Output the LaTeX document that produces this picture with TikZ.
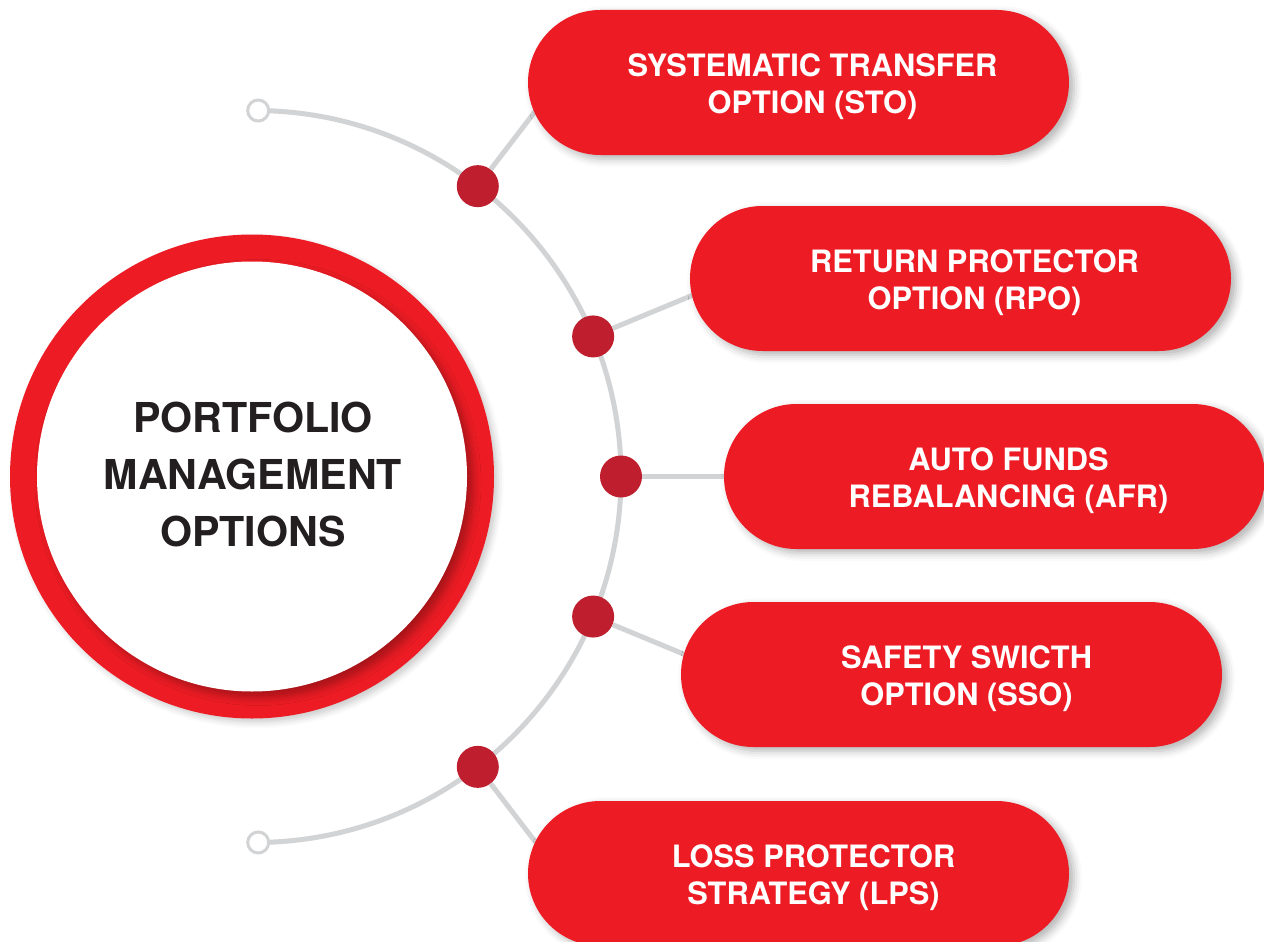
\documentclass[tikz,border=0pt]{standalone}
\usepackage{fontspec}
\setmainfont{TeX Gyre Heros}
\usetikzlibrary{shapes.misc,calc,shadows.blur}
\definecolor{pillred}{RGB}{237,28,36}
\definecolor{hubred}{RGB}{190,30,45}
\definecolor{linegray}{RGB}{209,211,212}
\definecolor{titleblack}{RGB}{35,31,32}
\begin{document}
\begin{tikzpicture}[x=1pt,y=1pt,
  pill/.style={rounded rectangle, fill=pillred, minimum width=541pt, minimum height=145pt, inner sep=0pt,
    blur shadow={shadow xshift=5pt, shadow yshift=-4pt, shadow blur radius=8pt, shadow opacity=30}},
  pilltext/.style={text=white, font=\fontsize{30.8}{37}\selectfont\bfseries, align=center, inner sep=0pt},
  hub/.style={circle, fill=hubred, minimum size=42pt, inner sep=0pt},
  link/.style={draw=linegray, line width=5pt},
  endpt/.style={circle, fill=white, draw=linegray, line width=3pt, minimum size=21pt, inner sep=0pt}]
\useasboundingbox (0,0) rectangle (1264,-942);
\coordinate (C) at (255,-476.5);
\coordinate (arcstart) at ($(C)+(89.5:366)$);
% the arc
\draw[link] (arcstart) arc[start angle=89.5, end angle=-89.5, radius=366];
% hubs on the arc
\node[hub] (h1) at ($(C)+(52.5:366)$) {};
\node[hub] (h2) at ($(C)+(22.5:366)$) {};
\node[hub] (h3) at ($(C)+(0:366)$) {};
\node[hub] (h4) at ($(C)+(-22.5:366)$) {};
\node[hub] (h5) at ($(C)+(-52.5:366)$) {};
\coordinate (e1) at ($(C)+(52.5:500)$);
\coordinate (e2) at ($(C)+(22.5:500)$);
\coordinate (e3) at ($(C)+(0:500)$);
\coordinate (e4) at ($(C)+(-22.5:500)$);
\coordinate (e5) at ($(C)+(-52.5:500)$);
\draw[link] (h1) -- (e1);
\draw[link] (h2) -- (e2);
\draw[link] (h3) -- (e3);
\draw[link] (h4) -- (e4);
\draw[link] (h5) -- (e5);
% arc end points
\node[endpt] (top) at (arcstart) {};
\node[endpt] (bot) at ($(C)+(-89.5:366)$) {};
% pills
\node[pill] (p1) at (798.5,-82.5) {};
\node[pill] (p2) at (960.5,-278.5) {};
\node[pill] (p3) at (994.5,-476.5) {};
\node[pill] (p4) at (951.5,-674.5) {};
\node[pill] (p5) at (798.5,-873.5) {};
\node[pilltext] (t1) at ($(p1.center)+(14,-4)$) {SYSTEMATIC TRANSFER\\OPTION (STO)};
\node[pilltext] (t2) at ($(p2.center)+(14,-4)$) {RETURN PROTECTOR\\OPTION (RPO)};
\node[pilltext] (t3) at ($(p3.center)+(14,-4)$) {AUTO FUNDS\\REBALANCING (AFR)};
\node[pilltext] (t4) at ($(p4.center)+(15,-4)$) {SAFETY SWICTH\\OPTION (SSO)};
\node[pilltext] (t5) at ($(p5.center)+(15,-4)$) {LOSS PROTECTOR\\STRATEGY (LPS)};
% central circle
\node[circle, fill=pillred, minimum size=484pt, inner sep=0pt,
  blur shadow={shadow xshift=4pt, shadow yshift=-4pt, shadow blur radius=6pt, shadow opacity=20}] (ring) at (252,-476.5) {};
\node[circle, fill=white, minimum size=430pt, inner sep=0pt,
  blur shadow={shadow xshift=6pt, shadow yshift=-6pt, shadow blur radius=8pt, shadow opacity=30}] (core) at (ring.center) {};
\node[text=titleblack, font=\fontsize{41.2}{57}\selectfont\bfseries, align=center, inner sep=0pt] (title) at (253,-474.5) {PORTFOLIO\\MANAGEMENT\\OPTIONS};
\end{tikzpicture}
\end{document}
